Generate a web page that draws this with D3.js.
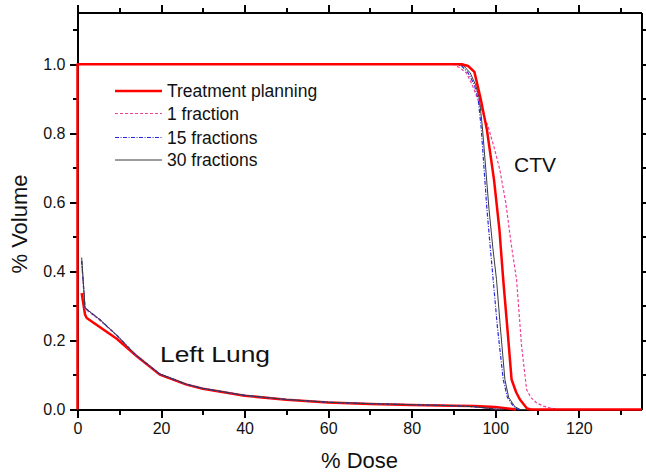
<!DOCTYPE html>
<html>
<head>
<meta charset="utf-8">
<script src="https://cdn.jsdelivr.net/npm/d3@7"></script>
<style>
  html, body { margin: 0; padding: 0; background: #fff; }
  svg { display: block; font-family: "Liberation Sans", Arial, sans-serif; }
</style>
</head>
<body>
<svg id="chart" width="646" height="476"></svg>
<script>
// Dose-volume histogram: [dose %, volume fraction]
const ctvPlanning = [[0,0],[0,1],[92,1],[93.5,0.995],[95,0.978],[96.5,0.9],[98,0.81],[99.7,0.665],[101,0.52],[101.9,0.376],[103,0.22],[103.9,0.087],[105,0.05],[105.9,0.029],[107.6,0.003],[108.5,0],[135,0]];
const ctvFrac1 = [[0,1],[90,1],[91.5,0.99],[93.1,0.975],[94.5,0.94],[95.9,0.896],[97,0.86],[98.3,0.819],[99.7,0.76],[101.1,0.694],[102.5,0.6],[103.8,0.48],[105.1,0.376],[106.3,0.183],[107.5,0.058],[108.5,0.035],[109.9,0.019],[111.5,0.01],[113,0.005],[115,0],[135,0]];
const ctvFrac15 = [[0,1],[90.5,1],[92,0.995],[93.5,0.975],[95,0.94],[95.9,0.9],[96.6,0.82],[97.3,0.7],[98,0.58],[98.8,0.47],[99.5,0.376],[100.5,0.24],[101.9,0.087],[102.9,0.035],[104.4,0.008],[105.5,0],[135,0]];
const ctvFrac30 = [[0,1],[91,1],[92.5,0.995],[94,0.975],[95.3,0.94],[96.2,0.9],[96.9,0.82],[97.7,0.7],[98.5,0.58],[99.4,0.47],[100.3,0.376],[101.2,0.24],[102.3,0.087],[103.2,0.035],[104.7,0.008],[106,0],[135,0]];

const lungPlanning = [[1,0.337],[1.8,0.275],[2.2,0.265],[5.4,0.238],[9.4,0.205],[14.2,0.154],[19.7,0.101],[26.1,0.072],[30,0.06],[40,0.04],[50,0.028],[60,0.02],[70,0.016],[80,0.013],[90,0.011],[95,0.01],[100,0.007],[103,0.003],[105,0]];
const lungFrac1 = [[1,0.43],[1.8,0.292],[5.4,0.258],[9.4,0.214],[14.2,0.155],[19.7,0.103],[26.1,0.073],[30,0.061],[40,0.041],[50,0.029],[60,0.021],[70,0.017],[80,0.014],[90,0.011],[95,0.008],[98,0.004],[100,0.001],[102,0]];
const lungFrac15 = [[1,0.43],[1.8,0.294],[5.4,0.26],[9.4,0.215],[14.2,0.155],[19.7,0.103],[26.1,0.073],[30,0.061],[40,0.041],[50,0.029],[60,0.021],[70,0.017],[80,0.014],[90,0.011],[95,0.008],[98,0.004],[100,0.001],[102,0]];
const lungFrac30 = [[1,0.44],[1.8,0.294],[5.4,0.26],[9.4,0.215],[14.2,0.155],[19.7,0.103],[26.1,0.073],[30,0.061],[40,0.041],[50,0.029],[60,0.021],[70,0.017],[80,0.014],[90,0.011],[95,0.008],[98,0.004],[100,0.001],[102,0]];

const seriesNames = ["Treatment planning", "1 fraction", "15 fractions", "30 fractions"];
const xTicks = [0, 20, 40, 60, 80, 100, 120];
const yTicks = [0.0, 0.2, 0.4, 0.6, 0.8, 1.0];

const styles = {
  "Treatment planning": { color: "#ff0000", width: 2.5, dash: null },
  "1 fraction": { color: "#f0409c", width: 1.2, dash: "3,2" },
  "15 fractions": { color: "#2a2ae0", width: 1.2, dash: "4,1.5,1,1.5" },
  "30 fractions": { color: "#3a3a3a", width: 1, dash: null }
};

const svg = d3.select("#chart");
const plotLeft = 77.5, plotRight = 641.5, plotTop = 12.5, plotBottom = 409.5;
const x = d3.scaleLinear().domain([0, 135]).range([plotLeft, plotRight]);
const y = d3.scaleLinear().domain([0, 1.15]).range([plotBottom, plotTop]);

const line = d3.line().x(d => x(d[0])).y(d => y(d[1]));

// axes
const minorX = d3.range(10, 135, 20);
const minorY = d3.range(0.1, 1.15, 0.2);
const axisStyle = g => {
  g.attr("font-size", null).attr("font-family", null);
  g.select(".domain").attr("stroke", "#000").attr("stroke-width", 2).attr("shape-rendering", "crispEdges");
  g.selectAll(".tick line").attr("stroke", "#000").attr("stroke-width", 2).attr("shape-rendering", "crispEdges");
  g.selectAll(".tick text").attr("font-size", 16).attr("fill", "#111");
};

const gBottom = svg.append("g").attr("transform", `translate(0,${plotBottom})`);
gBottom.call(d3.axisBottom(x).tickValues(xTicks).tickFormat(d3.format("d")).tickSize(8).tickSizeOuter(0).tickPadding(5));
gBottom.call(axisStyle);
gBottom.append("g").call(d3.axisBottom(x).tickValues(minorX).tickFormat("").tickSize(5).tickSizeOuter(0)).call(axisStyle);

const gTop = svg.append("g").attr("transform", `translate(0,${plotTop})`);
gTop.call(d3.axisTop(x).tickValues(xTicks).tickFormat("").tickSize(8).tickSizeOuter(0));
gTop.call(axisStyle);
gTop.append("g").call(d3.axisTop(x).tickValues(minorX).tickFormat("").tickSize(5).tickSizeOuter(0)).call(axisStyle);

const gLeft = svg.append("g").attr("transform", `translate(${plotLeft},0)`);
gLeft.call(d3.axisLeft(y).tickValues(yTicks).tickFormat(d3.format(".1f")).tickSize(8).tickSizeOuter(0).tickPadding(4));
gLeft.call(axisStyle);
gLeft.append("g").call(d3.axisLeft(y).tickValues(minorY).tickFormat("").tickSize(5).tickSizeOuter(0)).call(axisStyle);

const gRight = svg.append("g").attr("transform", `translate(${plotRight},0)`);
gRight.call(d3.axisRight(y).tickValues(d3.range(0.1, 1.15, 0.1)).tickFormat("").tickSize(5).tickSizeOuter(0));
gRight.call(axisStyle);

// curves: lung planning under the fraction curves, CTV planning on top
const drawOrder = [
  ["Treatment planning", lungPlanning],
  ["1 fraction", lungFrac1], ["15 fractions", lungFrac15], ["30 fractions", lungFrac30],
  ["1 fraction", ctvFrac1], ["15 fractions", ctvFrac15], ["30 fractions", ctvFrac30],
  ["Treatment planning", ctvPlanning]
];
const plot = svg.append("g");
drawOrder.forEach(([name, data]) => {
  const s = styles[name];
  plot.append("path")
    .attr("d", line(data))
    .attr("fill", "none")
    .attr("stroke", s.color)
    .attr("stroke-width", s.width)
    .attr("stroke-dasharray", s.dash)
    .attr("stroke-linejoin", "round");
});

// axis titles
svg.append("text").attr("x", (plotLeft + plotRight) / 2).attr("y", 468)
  .attr("text-anchor", "middle").attr("font-size", 22).attr("fill", "#111").text("% Dose");
svg.append("text").attr("transform", "translate(27,224) rotate(-90)")
  .attr("text-anchor", "middle").attr("font-size", 22).attr("fill", "#111").text("% Volume");

// structure labels
svg.append("text").attr("x", 514).attr("y", 172).attr("font-size", 21).attr("fill", "#111").text("CTV");
svg.append("text").attr("transform", "translate(160,362) scale(1.2,1)")
  .attr("font-size", 22).attr("fill", "#111").text("Left Lung");

// legend
const legend = svg.append("g");
seriesNames.forEach((name, i) => {
  const s = styles[name];
  const ly = [91, 113.5, 137.5, 160][i];
  legend.append("line").attr("x1", 115).attr("x2", 162).attr("y1", ly).attr("y2", ly)
    .attr("stroke", s.color).attr("stroke-width", s.width).attr("stroke-dasharray", s.dash);
  legend.append("text").attr("x", 167).attr("y", ly + 6).attr("font-size", 17.5)
    .attr("fill", "#111").text(name);
});
</script>
</body>
</html>
